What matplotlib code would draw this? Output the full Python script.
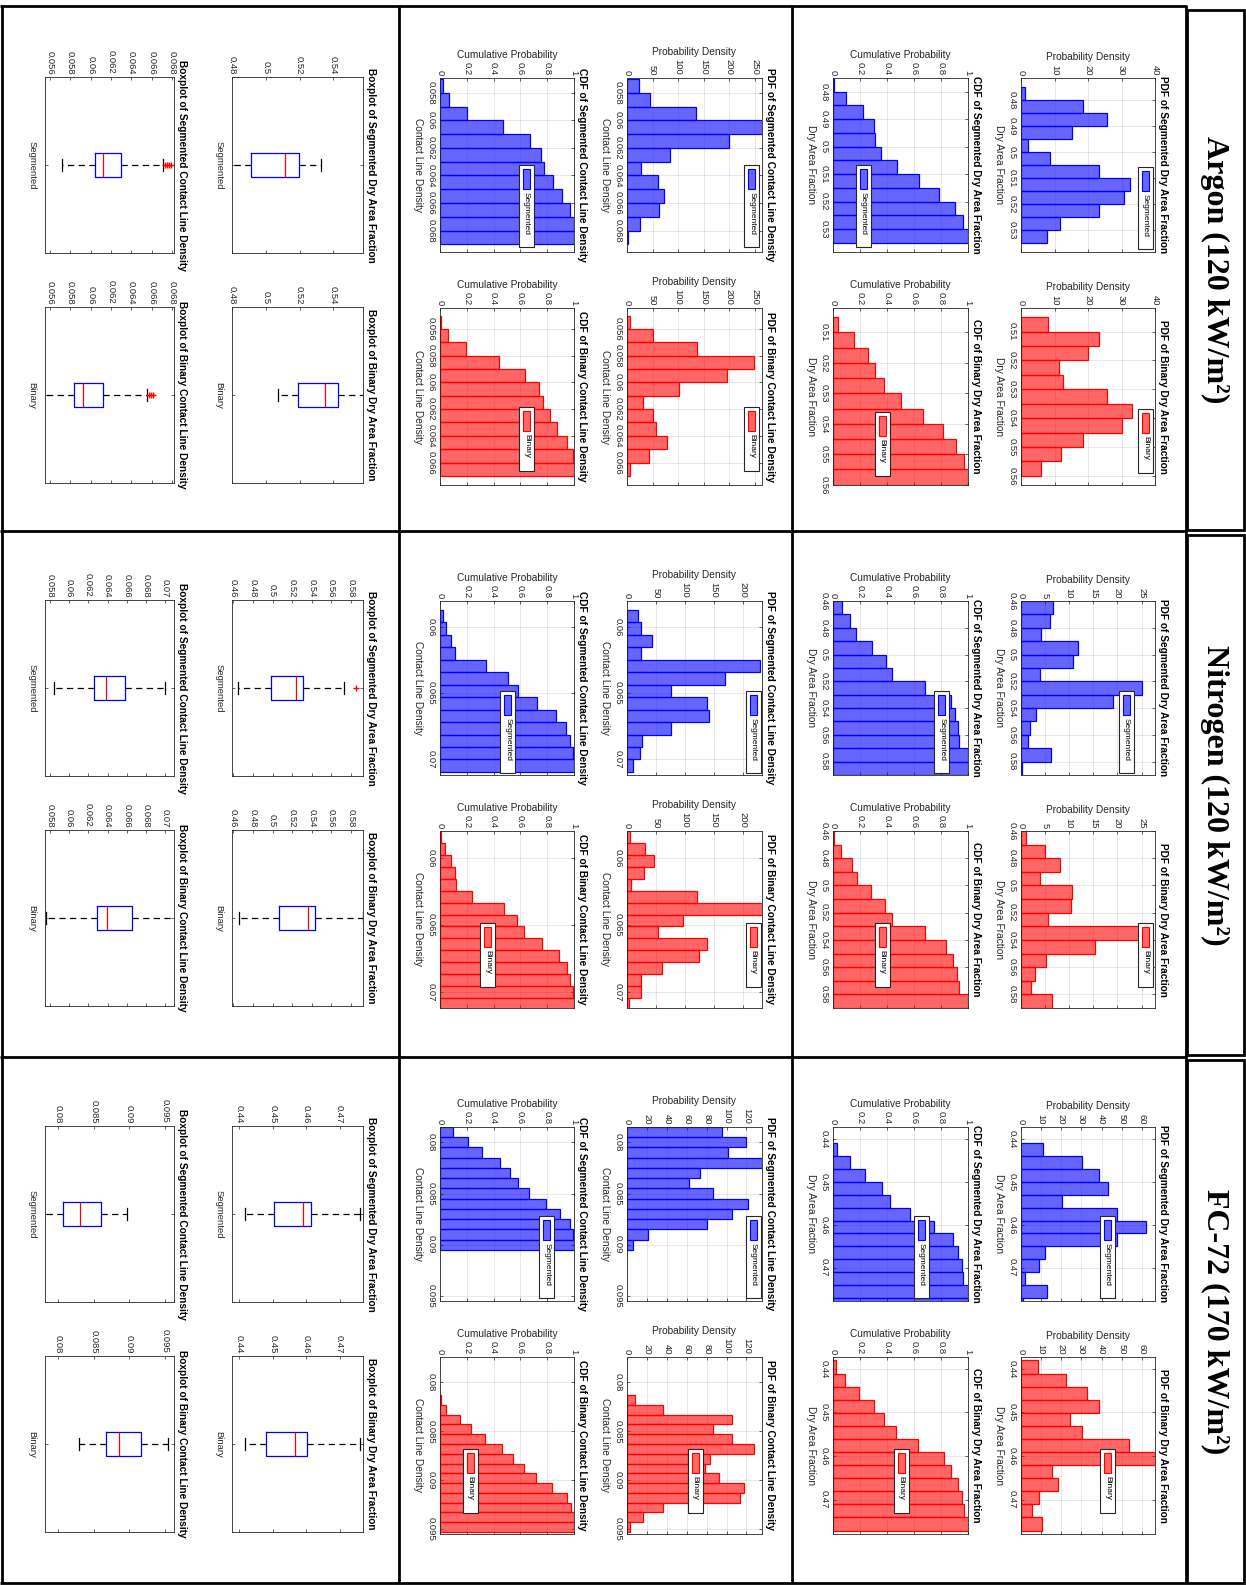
import numpy as np
import matplotlib.pyplot as plt
from matplotlib.patches import Rectangle
from matplotlib.transforms import offset_copy

plt.rcParams['font.family'] = ['Liberation Sans', 'DejaVu Sans']

W, H = 1246, 1585
fig = plt.figure(figsize=(W / 100, H / 100), dpi=100)

headers = ['Argon (120 kW/m²)', 'Nitrogen (120 kW/m²)', 'FC-72 (170 kW/m²)']

# histogram bins: (first edge, bin width); values are pdf heights per bin
# --- Argon ---
ar_dry_seg_bins = (0.475, 0.005)
ar_dry_seg = [1.1, 18.4, 25.6, 15.2, 2.0, 8.7, 23.3, 32.5, 30.6, 23.3, 11.5, 7.9]
ar_dry_bin_bins = (0.505, 0.005)
ar_dry_bin = [8.0, 23.3, 20.1, 11.2, 12.5, 25.6, 33.2, 30.1, 18.5, 12.0, 6.1]
ar_cld_seg_bins = (0.057, 0.001)
ar_cld_seg = [22.8, 45.5, 135.3, 263.5, 198.4, 83.3, 27.3, 59.9, 71.6, 61.8, 24.7, 1.3]
ar_cld_bin_bins = (0.055, 0.001)
ar_cld_bin = [6.5, 50, 136.4, 248, 196, 102, 30.5, 50, 56.5, 78, 42.2, 6.5]

# --- Nitrogen ---
n2_dry_seg_bins = (0.46, 0.01)
n2_dry_seg = [6.7, 6.1, 4.2, 11.9, 10.8, 3.9, 25.0, 19.1, 3.2, 1.8, 1.4, 6.2, 0.2]
n2_dry_bin_bins = (0.46, 0.01)
n2_dry_bin = [1.0, 5.0, 8.0, 4.0, 10.5, 10.3, 5.7, 24.5, 15.3, 5.2, 3.0, 2.0, 6.5]
n2_cld_seg_bins = (0.05868, 0.000945)
n2_cld_seg = [19.2, 23.4, 42.7, 23.4, 230, 168, 75.3, 138, 142, 75.3, 25.1, 21.8, 10]
n2_cld_bin_bins = (0.0580, 0.00089)
n2_cld_bin = [5.9, 31.8, 46, 30.1, 7.5, 120.5, 232.6, 96.2, 53.6, 138, 124.7, 61.1,
              23.4, 23.4, 4.2]

# --- FC-72 ---
fc_dry_seg_bins = (0.441, 0.003)
fc_dry_seg = [11, 30.4, 38.8, 43.3, 20.3, 47.8, 62.2, 47.8, 11.7, 8.9, 2.2, 12.9, 0.8]
fc_dry_bin_bins = (0.4381, 0.003)
fc_dry_bin = [8.4, 22.2, 33, 38.5, 24.2, 30.4, 53.8, 66.3, 15.6, 18.4, 8.9, 5.5, 10.3]
fc_cld_seg_bins = (0.0785, 0.001)
fc_cld_seg = [95.1, 119.5, 101.5, 135.6, 73.2, 62.4, 86.8, 122, 105.4, 80.5, 21, 6.3]
fc_cld_bin_bins = (0.0813, 0.001)
fc_cld_bin = [8.3, 36.1, 105.4, 86.8, 105.4, 127.3, 82.9, 78.5, 92.7, 117.6, 113.7,
              36.1, 16.1, 2.9]

# boxplot stats: lower whisker, q1, median, q3, upper whisker
ar_box_dry_seg = [0.4747, 0.4913, 0.5112, 0.5195, 0.5327]
ar_box_dry_bin = [0.5071, 0.5191, 0.5349, 0.5428, 0.5601]
ar_box_cld_seg = [0.0572, 0.0604, 0.0612, 0.0630, 0.0671]
ar_box_cld_bin = [0.0550, 0.05836, 0.05928, 0.06125, 0.0655]
ar_out_cld_seg = [0.0673, 0.0675, 0.0677, 0.0679]
ar_out_cld_bin = [0.0657, 0.0659, 0.0661]

n2_box_dry_seg = [0.465, 0.4983, 0.5241, 0.5314, 0.5727]
n2_box_dry_bin = [0.466, 0.5065, 0.5365, 0.5437, 0.592]
n2_box_cld_seg = [0.0584, 0.0626, 0.0638, 0.0658, 0.0700]
n2_box_cld_bin = [0.0576, 0.0629, 0.0639, 0.0665, 0.0712]
n2_out_dry_seg = [0.585]

fc_box_dry_seg = [0.4418, 0.4503, 0.4591, 0.4615, 0.476]
fc_box_dry_bin = [0.4418, 0.4479, 0.4567, 0.4603, 0.476]
fc_box_cld_seg = [0.0780, 0.0807, 0.0830, 0.0860, 0.0896]
fc_box_cld_bin = [0.0829, 0.0867, 0.0886, 0.0917, 0.0955]

# axis ranges / ticks per gas
ar_lims = dict(
    dry_pdf=[(0.4716, 0.5383), (0.5018, 0.5632)], dry_cdf=[(0.475, 0.5383), (0.502, 0.5601)],
    cld=[(0.05693, 0.06955), (0.05443, 0.06768)],
    dry_ticks=[np.arange(0.48, 0.5301, 0.01), np.arange(0.51, 0.5601, 0.01)],
    cld_ticks=[np.arange(0.058, 0.06801, 0.002), np.arange(0.056, 0.06601, 0.002)],
    pdf_dry_x=(40, np.arange(0, 41, 10)), pdf_cld_x=(263.5, np.arange(0, 251, 50)),
    box_dry=(0.48, 0.5576, np.arange(0.48, 0.5401, 0.02)),
    box_cld=(0.0555, 0.0682, np.arange(0.056, 0.06801, 0.002)))
n2_lims = dict(
    dry_pdf=[(0.46, 0.59), (0.46, 0.59)], dry_cdf=[(0.46, 0.59), (0.46, 0.59)],
    cld=[(0.058, 0.0712), (0.058, 0.0712)],
    dry_ticks=[np.arange(0.46, 0.5801, 0.02)] * 2,
    cld_ticks=[np.array([0.06, 0.065, 0.07])] * 2,
    pdf_dry_x=(27.8, np.arange(0, 26, 5)), pdf_cld_x=(232.6, np.arange(0, 201, 50)),
    box_dry=(0.4586, 0.5924, np.arange(0.46, 0.5801, 0.02)),
    box_cld=(0.0575, 0.0709, np.arange(0.058, 0.07001, 0.002)))
fc_lims = dict(
    dry_pdf=[(0.43715, 0.4778), (0.4373, 0.4779)], dry_cdf=[(0.43715, 0.4778), (0.4373, 0.4779)],
    cld=[(0.0785, 0.0955), (0.0774, 0.0955)],
    dry_ticks=[np.arange(0.44, 0.4701, 0.01)] * 2,
    cld_ticks=[np.array([0.08, 0.085, 0.09, 0.095])] * 2,
    pdf_dry_x=(66.5, np.arange(0, 61, 10)), pdf_cld_x=(135.6, np.arange(0, 121, 20)),
    box_dry=(0.4378, 0.477, np.arange(0.44, 0.4701, 0.01)),
    box_cld=(0.0781, 0.0963, np.array([0.08, 0.085, 0.09, 0.095])))

# legend placement (left, top) as fractions of each panel, for [Segmented, Binary]
ar_leg = dict(pdf_dry=[(0.873, 0.51), (0.873, 0.57)], cdf_dry=[(0.17, 0.50), (0.31, 0.59)],
              pdf_cld=[(0.87, 0.50), (0.87, 0.56)], cdf_cld=[(0.59, 0.50), (0.59, 0.56)])
n2_leg = dict(pdf_dry=[(0.73, 0.52), (0.875, 0.52)], cdf_dry=[(0.75, 0.52), (0.31, 0.52)],
              pdf_cld=[(0.88, 0.52), (0.88, 0.52)], cdf_cld=[(0.45, 0.52), (0.30, 0.52)])
fc_leg = dict(pdf_dry=[(0.59, 0.51), (0.59, 0.52)], cdf_dry=[(0.60, 0.51), (0.45, 0.52)],
              pdf_cld=[(0.88, 0.51), (0.45, 0.52)], cdf_cld=[(0.74, 0.51), (0.17, 0.52)])

gas_data = [
    dict(dry=[(ar_dry_seg_bins, ar_dry_seg), (ar_dry_bin_bins, ar_dry_bin)],
         cld=[(ar_cld_seg_bins, ar_cld_seg), (ar_cld_bin_bins, ar_cld_bin)],
         box_dry=[(ar_box_dry_seg, []), (ar_box_dry_bin, [])],
         box_cld=[(ar_box_cld_seg, ar_out_cld_seg), (ar_box_cld_bin, ar_out_cld_bin)],
         lims=ar_lims, leg=ar_leg),
    dict(dry=[(n2_dry_seg_bins, n2_dry_seg), (n2_dry_bin_bins, n2_dry_bin)],
         cld=[(n2_cld_seg_bins, n2_cld_seg), (n2_cld_bin_bins, n2_cld_bin)],
         box_dry=[(n2_box_dry_seg, n2_out_dry_seg), (n2_box_dry_bin, [])],
         box_cld=[(n2_box_cld_seg, []), (n2_box_cld_bin, [])],
         lims=n2_lims, leg=n2_leg),
    dict(dry=[(fc_dry_seg_bins, fc_dry_seg), (fc_dry_bin_bins, fc_dry_bin)],
         cld=[(fc_cld_seg_bins, fc_cld_seg), (fc_cld_bin_bins, fc_cld_bin)],
         box_dry=[(fc_box_dry_seg, []), (fc_box_dry_bin, [])],
         box_cld=[(fc_box_cld_seg, []), (fc_box_cld_bin, [])],
         lims=fc_lims, leg=fc_leg),
]

kinds = ['Segmented', 'Binary']
FACE = [(0, 0, 1, 0.6), (1, 0, 0, 0.6)]
EDGE = [(0, 0, 1), (1, 0, 0)]
GREY = '0.15'

# page layout in pixels (portrait page, panels turned a quarter clockwise)
BLOCK_TOP = [0, 523, 1049]
COLS = dict(pdf_dry=(1021, 1155), cdf_dry=(833, 968), pdf_cld=(627, 762),
            cdf_cld=(440, 574), box_dry=(232, 363), box_cld=(45, 174))
ROWS = [(78, 252), (308, 485)]
ROWS_BOX = [(77, 253), (307, 483)]

ov = fig.add_axes([0, 0, 1, 1], zorder=10)
ov.set_xlim(0, W)
ov.set_ylim(H, 0)
ov.axis('off')
ov.patch.set_alpha(0)


def fmt(v):
    s = ('%.4f' % v).rstrip('0').rstrip('.')
    return s if s else '0'


def add_ax(x0, x1, y0, y1):
    return fig.add_axes([x0 / W, 1 - y1 / H, (x1 - x0) / W, (y1 - y0) / H])


def dress(ax, xt, yt, ylabels=None, xlabel=None, ylabel=None, title='', grid=True, ypad=3):
    ax.set_xticks(xt, [fmt(v) for v in xt])
    ax.set_yticks(yt, ylabels if ylabels else [fmt(v) for v in yt])
    ax.tick_params(direction='in', length=2.5, width=0.5, color=GREY, labelcolor=GREY,
                   labelsize=6.8, top=True, bottom=True, left=True, right=True)
    ax.tick_params(axis='x', labeltop=True, labelbottom=False, labelrotation=-90, pad=2)
    ax.tick_params(axis='y', labelrotation=-90, pad=ypad)
    for lb in ax.get_yticklabels():
        lb.set_va('center')
    for sp in ax.spines.values():
        sp.set_color(GREY)
        sp.set_linewidth(0.6)
    if grid:
        ax.grid(True, color=GREY, alpha=0.15, lw=0.5)
        ax.set_axisbelow(True)
    if xlabel:
        ax.xaxis.set_label_position('top')
        ax.set_xlabel(xlabel, fontsize=7.3, color=GREY, labelpad=3)
    if ylabel:
        ax.set_ylabel(ylabel, rotation=-90, va='top', fontsize=7.3, color=GREY, labelpad=3)
    ax.text(1.0, 0.5, title, transform=offset_copy(ax.transAxes, fig=fig, x=3, y=0, units='dots'),
            rotation=-90, ha='left', va='center', fontsize=7.3, fontweight='bold')


def legend_box(x0, x1, y0, y1, pos, k):
    fx, ft = pos
    left = x0 + fx * (x1 - x0)
    top = y0 + ft * (y1 - y0)
    bh = 82 if k == 0 else 64
    ov.add_patch(Rectangle((left, top), 15, bh, facecolor='white', edgecolor=GREY, lw=0.8))
    ov.add_patch(Rectangle((left + 4, top + 4), 7, 20, facecolor=FACE[k], edgecolor=EDGE[k], lw=0.8))
    ov.text(left + 7.5, top + 27, kinds[k], rotation=-90, ha='center', va='top',
            fontsize=6, color='black')


for g, gd in enumerate(gas_data):
    off = BLOCK_TOP[g]
    lims = gd['lims']
    for k in range(2):
        for quantity, long_name in (('dry', 'Dry Area Fraction'), ('cld', 'Contact Line Density')):
            (start, width), vals = gd[quantity][k]
            vals = np.asarray(vals, float)
            edges = start + width * np.arange(len(vals))
            for kind in ('pdf', 'cdf'):
                key = kind + '_' + quantity
                x0, x1 = COLS[key]
                y0, y1 = ROWS[k]
                ax = add_ax(x0, x1, y0 + off, y1 + off)
                heights = vals if kind == 'pdf' else np.cumsum(vals) / vals.sum()
                ax.barh(edges, heights, height=width, align='edge', color=FACE[k],
                        edgecolor=EDGE[k], linewidth=0.9)
                if quantity == 'dry':
                    ylim = lims['dry_pdf'][k] if kind == 'pdf' else lims['dry_cdf'][k]
                    yt = lims['dry_ticks'][k]
                else:
                    ylim = lims['cld'][k]
                    yt = lims['cld_ticks'][k]
                if kind == 'pdf':
                    xmax, xt = lims['pdf_' + quantity + '_x']
                    xl = 'Probability Density'
                    tl = 'PDF of %s %s' % (kinds[k], long_name)
                else:
                    xmax, xt = 1, np.arange(0, 1.01, 0.2)
                    xl = 'Cumulative Probability'
                    tl = 'CDF of %s %s' % (kinds[k], long_name)
                ax.set_xlim(0, xmax)
                ax.set_ylim(ylim[1], ylim[0])
                dress(ax, xt, yt, xlabel=xl, ylabel=long_name, title=tl)
                legend_box(x0, x1, y0 + off, y1 + off, gd['leg'][key][k], k)

        for quantity, long_name in (('dry', 'Dry Area Fraction'), ('cld', 'Contact Line Density')):
            key = 'box_' + quantity
            stats, fliers = gd[key][k]
            x0, x1 = COLS[key]
            y0, y1 = ROWS_BOX[k]
            ax = add_ax(x0, x1, y0 + off, y1 + off)
            wl, q1, md, q3, wh = stats
            ax.bxp([dict(whislo=wl, q1=q1, med=md, q3=q3, whishi=wh, fliers=fliers)],
                   positions=[1], widths=0.14, orientation='horizontal', manage_ticks=False,
                   boxprops=dict(color='blue', lw=0.9),
                   medianprops=dict(color='red', lw=0.9),
                   whiskerprops=dict(color='black', lw=0.9, ls=(0, (5, 3.5))),
                   capprops=dict(color='black', lw=0.9),
                   flierprops=dict(marker='+', markeredgecolor='red', markersize=5, mew=1))
            lo, hi, vt = lims[key]
            ax.set_xlim(lo, hi)
            ax.set_ylim(1.5, 0.5)
            dress(ax, vt, [1], ylabels=[kinds[k]], title='Boxplot of %s %s' % (kinds[k], long_name),
                  grid=False, ypad=6)

# page frame and gas headers
lw = 2.0
for y in (5.5, 530.5, 1056.5, 1583):
    ov.plot([0, 1186], [y, y], color='black', lw=lw, solid_capstyle='butt')
for x in (1.5, 399, 792, 1185.5):
    ov.plot([x, x], [5, 1583], color='black', lw=lw, solid_capstyle='butt')
head_spans = [(9.5, 530), (535, 1055), (1060, 1583)]
for (t, b), name in zip(head_spans, headers):
    ov.add_patch(Rectangle((1186.5, t), 57.5, b - t, facecolor='none', edgecolor='black', lw=lw))
    ov.text(1215, (t + b) / 2, name, rotation=-90, ha='center', va='center', fontsize=23,
            fontweight='bold', family='Liberation Serif')

fig.savefig('out.png', dpi=100)
